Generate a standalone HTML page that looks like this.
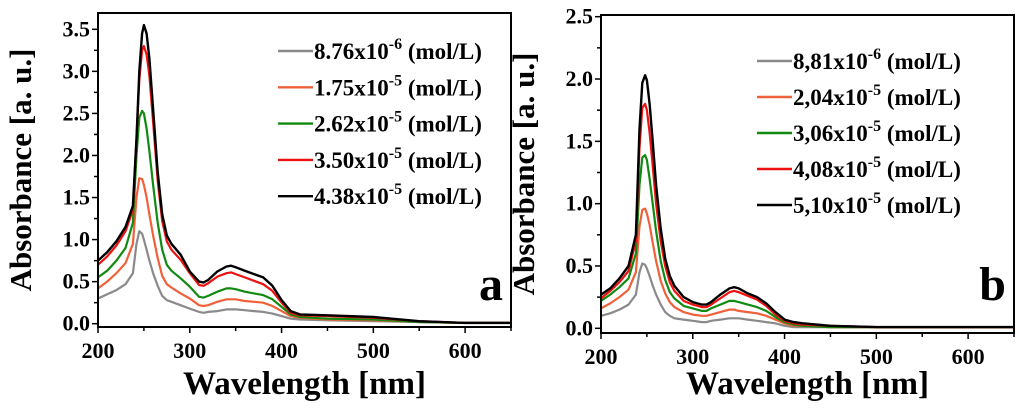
<!DOCTYPE html>
<html><head><meta charset="utf-8"><style>
body{margin:0;background:#fff;}
svg{display:block;font-family:"Liberation Serif",serif;font-weight:bold;}
</style></head><body>
<svg id="chart" width="1024" height="415" viewBox="0 0 1024 415"></svg>
<script>
const wavelengths=[200,210,220,230,238,242,245,248,250,253,256,260,265,270,275,280,290,300,310,315,320,330,340,345,350,360,370,380,390,400,410,420,450,500,550,600,650];
const labelsA=["8.76x10","1.75x10","2.62x10","3.50x10","4.38x10"];
const expA=["-6","-5","-5","-5","-5"];
const labelsB=["8,81x10","2,04x10","3,06x10","4,08x10","5,10x10"];
const expB=["-6","-5","-5","-5","-5"];
const colors=["#8a8a8a","#f0603a","#118a11","#ee1111","#000000"];
const a1=[0.30,0.35,0.40,0.47,0.6,0.95,1.1,1.07,1.0,0.88,0.75,0.6,0.45,0.33,0.28,0.26,0.22,0.18,0.14,0.13,0.14,0.15,0.17,0.17,0.17,0.16,0.15,0.14,0.12,0.09,0.06,0.05,0.04,0.03,0.02,0.01,0.01];
const a2=[0.42,0.5,0.6,0.72,0.95,1.5,1.73,1.72,1.65,1.5,1.3,1.05,0.78,0.57,0.47,0.43,0.36,0.3,0.22,0.21,0.22,0.26,0.29,0.29,0.29,0.27,0.26,0.25,0.21,0.15,0.09,0.07,0.05,0.04,0.02,0.01,0.01];
const a3=[0.55,0.63,0.75,0.9,1.2,2.0,2.45,2.53,2.5,2.32,2.05,1.65,1.2,0.88,0.7,0.63,0.54,0.44,0.32,0.31,0.33,0.38,0.42,0.42,0.41,0.38,0.36,0.34,0.29,0.2,0.11,0.08,0.06,0.05,0.02,0.01,0.01];
const a4=[0.7,0.8,0.93,1.1,1.35,2.2,2.9,3.25,3.3,3.2,2.95,2.4,1.7,1.22,0.98,0.88,0.76,0.6,0.46,0.45,0.48,0.56,0.6,0.61,0.59,0.55,0.51,0.47,0.39,0.25,0.13,0.1,0.09,0.07,0.03,0.01,0.01];
const a5=[0.75,0.85,0.98,1.15,1.4,2.2,3.0,3.45,3.55,3.45,3.15,2.55,1.8,1.3,1.05,0.95,0.82,0.62,0.5,0.49,0.52,0.62,0.68,0.69,0.67,0.63,0.59,0.55,0.45,0.28,0.15,0.11,0.1,0.08,0.03,0.01,0.01];
const b1=[0.1,0.12,0.15,0.19,0.27,0.45,0.52,0.51,0.48,0.42,0.35,0.27,0.19,0.13,0.1,0.08,0.07,0.06,0.05,0.05,0.06,0.07,0.08,0.08,0.08,0.07,0.06,0.05,0.04,0.02,0.01,0.01,0.01,0.01,0.01,0.01,0.01];
const b2=[0.16,0.2,0.25,0.31,0.45,0.82,0.95,0.96,0.92,0.83,0.7,0.54,0.38,0.28,0.21,0.17,0.13,0.11,0.1,0.1,0.11,0.13,0.15,0.15,0.14,0.13,0.12,0.1,0.07,0.04,0.02,0.02,0.01,0.01,0.01,0.01,0.01];
const b3=[0.22,0.27,0.33,0.4,0.6,1.15,1.37,1.39,1.35,1.2,1.02,0.78,0.54,0.39,0.29,0.24,0.18,0.16,0.14,0.14,0.16,0.19,0.22,0.22,0.21,0.19,0.17,0.14,0.09,0.05,0.03,0.02,0.01,0.01,0.01,0.01,0.01];
const b4=[0.24,0.3,0.37,0.46,0.7,1.45,1.77,1.8,1.75,1.57,1.33,1.0,0.7,0.5,0.37,0.3,0.22,0.19,0.17,0.17,0.19,0.24,0.29,0.3,0.29,0.26,0.23,0.18,0.11,0.06,0.04,0.03,0.02,0.01,0.01,0.01,0.01];
const b5=[0.27,0.32,0.4,0.5,0.75,1.6,1.97,2.03,1.99,1.8,1.53,1.15,0.8,0.56,0.42,0.34,0.25,0.21,0.19,0.19,0.21,0.27,0.32,0.33,0.32,0.28,0.25,0.2,0.13,0.07,0.05,0.04,0.02,0.01,0.01,0.01,0.01];
const xTicks=[200,300,400,500,600];
const yTicksA=[0,0.5,1,1.5,2,2.5,3,3.5];
const yTicksB=[0,0.5,1,1.5,2,2.5];

const svg=document.getElementById('chart');
const NS='http://www.w3.org/2000/svg';
function mk(tag,attrs,parent,text){const e=document.createElementNS(NS,tag);for(const k in attrs)e.setAttribute(k,attrs[k]);if(text!==undefined)e.textContent=text;(parent||svg).appendChild(e);return e;}

function panel(P){
  const g=mk('g',{});
  
  
  const X=v=>P.L+(v-200)/(650-200)*(P.R-P.L);
  const Y=v=>P.y0+(v-0)/(P.yMax)*(P.yTop-P.y0);
  P.series.forEach((s,i)=>{
    let d='';wavelengths.forEach((w,j)=>{d+=(j?'L':'M')+X(w).toFixed(1)+','+Y(s[j]).toFixed(1);});
    const p=mk('path',{d:d,fill:'none',stroke:colors[i],'stroke-width':i==4?2.4:2.2,'stroke-linejoin':'round'},g);
    
    
  });
  const f=mk('rect',{x:P.L,y:P.T,width:P.R-P.L,height:P.B-P.T,fill:'none',stroke:'#000','stroke-width':2},g);
  
  
  for(let w=200;w<=650;w+=50){
    const major=w%100==0;
    mk('line',{x1:X(w),x2:X(w),y1:P.B,y2:P.B+(major?6:4),stroke:'#000','stroke-width':1.5},g);
  }
  xTicks.forEach(w=>{
    const t=mk('text',{x:X(w),y:P.B+31,'text-anchor':'middle','font-size':22},g,String(w));
    
    
  });
  for(let v=0;v<=P.yMax+1e-9;v+=0.25){
    const major=Math.abs(v*2-Math.round(v*2))<1e-6;
    mk('line',{x1:P.L,x2:P.L-(major?6:4),y1:Y(v),y2:Y(v),stroke:'#000','stroke-width':1.5},g);
  }
  P.yTicks.forEach(v=>{
    const t=mk('text',{x:P.L-8,y:Y(v)+7,'text-anchor':'end','font-size':22},g,v.toFixed(1));
    
    
  });
  const xt=mk('text',{x:(P.L+P.R)/2,y:394,'text-anchor':'middle','font-size':33},g,'Wavelength [nm]');
  
  
  const yc=(P.T+P.B)/2;
  const yt=mk('text',{x:0,y:0,'text-anchor':'middle','font-size':31,transform:`translate(${P.L-67},${yc}) rotate(-90)`},g,'Absorbance [a. u.]');
  
  
  P.labels.forEach((lab,i)=>{
    const y=P.legY+i*P.legDy;
    const lg=mk('g',{},g);
    
    
    mk('line',{x1:P.legX,x2:P.legX+35,y1:y,y2:y,stroke:colors[i],'stroke-width':2.4},lg);
    const t=mk('text',{x:P.legX+36,y:y+8,'font-size':23},lg);
    mk('tspan',{},t,lab);
    mk('tspan',{dy:-10,'font-size':16},t,P.exps[i]);
    mk('tspan',{dy:10},t,' (mol/L)');
  });
  const pl=mk('text',{x:P.R-8,y:P.letterY,'text-anchor':'end','font-size':48},g,P.id);
  
  
}
panel({id:'a',L:98,R:511,T:13,B:327,y0:323.7,yTop:29.3,yMax:3.5,yTicks:yTicksA,series:[a1,a2,a3,a4,a5],labels:labelsA,exps:expA,legX:278,legY:51,legDy:36.3,letterY:300});
panel({id:'b',L:601,R:1014,T:15,B:333,y0:328.3,yTop:16.7,yMax:2.5,yTicks:yTicksB,series:[b1,b2,b3,b4,b5],labels:labelsB,exps:expB,legX:757,legY:61,legDy:36,letterY:300});
</script>
</body></html>
